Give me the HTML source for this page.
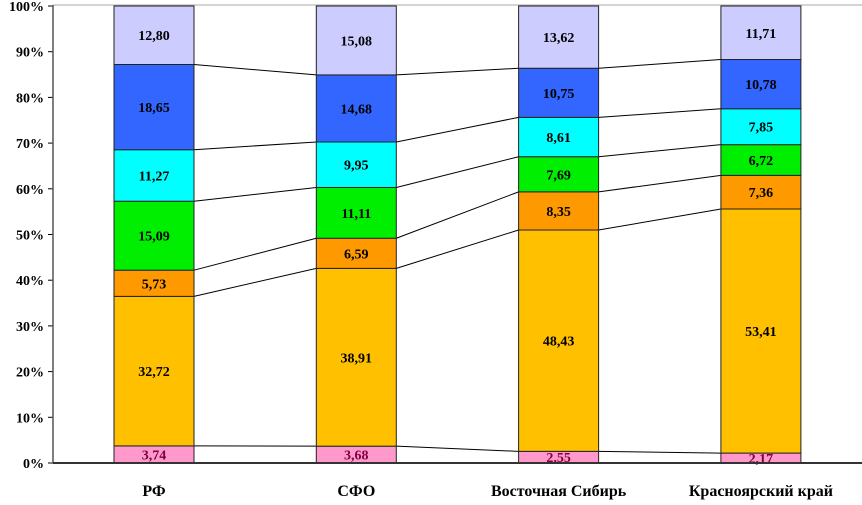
<!DOCTYPE html>
<html><head><meta charset="utf-8"><style>
body{margin:0;background:#fff;}
svg text{font-family:"Liberation Serif",serif;font-weight:bold;}
</style></head><body>
<svg id="chart" width="862" height="500" xmlns="http://www.w3.org/2000/svg"></svg>
<script>
const categories=["РФ","СФО","Восточная Сибирь","Красноярский край"];
const s1=[3.74,3.68,2.55,2.17];
const s2=[32.72,38.91,48.43,53.41];
const s3=[5.73,6.59,8.35,7.36];
const s4=[15.09,11.11,7.69,6.72];
const s5=[11.27,9.95,8.61,7.85];
const s6=[18.65,14.68,10.75,10.78];
const s7=[12.80,15.08,13.62,11.71];
const labels1=["3,74","3,68","2,55","2,17"];
const labels2=["32,72","38,91","48,43","53,41"];
const labels3=["5,73","6,59","8,35","7,36"];
const labels4=["15,09","11,11","7,69","6,72"];
const labels5=["11,27","9,95","8,61","7,85"];
const labels6=["18,65","14,68","10,75","10,78"];
const labels7=["12,80","15,08","13,62","11,71"];
const yTicks=[0,10,20,30,40,50,60,70,80,90,100];
const series=[s1,s2,s3,s4,s5,s6,s7];
const seriesLabels=[labels1,labels2,labels3,labels4,labels5,labels6,labels7];
const colors=["#ff99cc","#ffc000","#ff9900","#00ee00","#00ffff","#3366ff","#ccccff"];
const svg=document.getElementById('chart');
const NS="http://www.w3.org/2000/svg";
const x0=53,yTop=6,yBot=463,barW=80,firstX=114,step=202.3;
const y=v=>yBot-(v/100)*(yBot-yTop);
const bx=i=>firstX+i*step;
function mk(t,a,txt){const e=document.createElementNS(NS,t);for(const k in a)e.setAttribute(k,a[k]);if(txt!==undefined)e.textContent=txt;svg.appendChild(e);return e;}
let e=mk('line',{x1:x0,y1:5,x2:862,y2:5,stroke:'#aaa','stroke-width':1});


yTicks.forEach(t=>{
  let l=mk('line',{x1:x0-5,y1:y(t),x2:x0,y2:y(t),stroke:'#000','stroke-width':1});
  
  
  let tx=mk('text',{x:x0-9,y:y(t)+5,'text-anchor':'end','font-size':14},t+'%');
  
  
});
const cum=categories.map((c,i)=>{let a=[0];series.forEach(s=>a.push(a[a.length-1]+s[i]));return a;});
for(let i=0;i<categories.length-1;i++){
  for(let k=1;k<series.length;k++){
    let l=mk('line',{x1:bx(i)+barW,y1:y(cum[i][k]),x2:bx(i+1),y2:y(cum[i+1][k]),stroke:'#000','stroke-width':1});
    
    
  }
}
categories.forEach((c,i)=>{
  series.forEach((s,k)=>{
    const yb=y(cum[i][k]),yt=y(cum[i][k+1]);
    let r=mk('rect',{x:bx(i),y:yt,width:barW,height:yb-yt,fill:colors[k],stroke:'#222','stroke-width':1});
    
    
    let t=mk('text',{x:bx(i)+barW/2,y:(yt+yb)/2+5,'text-anchor':'middle','font-size':14,fill:k==0?'#800040':'#000'},seriesLabels[k][i]);
    
    
  });
  let t=mk('text',{x:bx(i)+barW/2,y:496,'text-anchor':'middle','font-size':16},c);
  
  
});
e=mk('line',{x1:x0,y1:yTop-1,x2:x0,y2:yBot,stroke:'#555','stroke-width':1.5});


e=mk('line',{x1:x0,y1:yBot,x2:862,y2:yBot,stroke:'#333','stroke-width':2});


</script>
</body></html>
